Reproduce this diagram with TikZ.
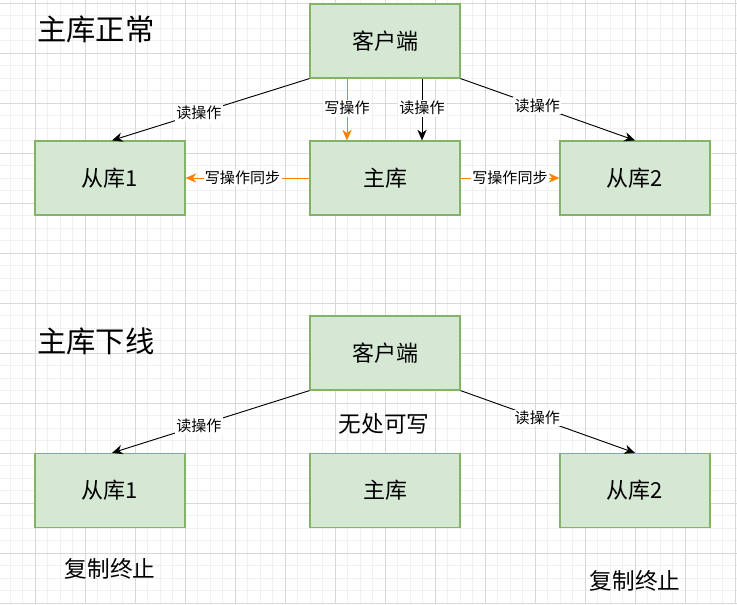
\documentclass[tikz,border=0pt]{standalone}
\usepackage{fontspec}
\setmainfont{Noto Sans CJK SC}
\usetikzlibrary{arrows.meta}
\definecolor{boxfill}{HTML}{D5E8D4}
\definecolor{boxline}{HTML}{82B366}
\definecolor{orangeline}{HTML}{FF8000}
\definecolor{gridminor}{HTML}{F0F0F0}
\definecolor{gridmajor}{HTML}{D8D8D8}
\tikzset{
  box/.style={draw=boxline, fill=boxfill, line width=0.9pt, minimum width=150*0.75pt, minimum height=74*0.75pt, inner sep=0pt, font=\fontsize{16.5}{19}\selectfont},
  title/.style={font=\fontsize{22}{26}\selectfont, inner sep=0pt},
  note/.style={font=\fontsize{17}{20}\selectfont, inner sep=0pt},
  elabel/.style={fill=white, inner sep=1pt, font=\fontsize{11.3}{13}\selectfont},
  readarrow/.style={draw=black, line width=0.7pt, -{Stealth[length=8pt,width=7pt,inset=2.5pt]}},
  writearrow/.style={draw=orangeline, line width=0.7pt, -{Stealth[length=8pt,width=7pt,inset=2.5pt]}},
}
\begin{document}
\begin{tikzpicture}[x=0.75pt,y=-0.75pt]
\useasboundingbox (0,0) rectangle (737,604);
\fill[white] (0,0) rectangle (737,604);
% minor grid
\foreach \i in {0,...,60} {
  \pgfmathsetmacro{\xx}{-15+12.5*\i}
  \draw[gridminor, line width=0.6pt] (\xx,0) -- (\xx,604);
}
\foreach \i in {0,...,50} {
  \pgfmathsetmacro{\yy}{3+12.5*\i}
  \draw[gridminor, line width=0.6pt] (0,\yy) -- (737,\yy);
}
% major grid
\foreach \xx in {35,85,...,735} { \draw[gridmajor, line width=0.6pt] (\xx,0) -- (\xx,604); }
\foreach \yy in {3,53,...,603} { \draw[gridmajor, line width=0.6pt] (0,\yy) -- (737,\yy); }

% top section
\node[title, anchor=west] (t1) at (37,29) {主库正常};
\node[box] (c1) at (385,41) {客户端};
\node[box] (s11) at (110,178) {从库1};
\node[box] (m1) at (385,178) {主库};
\node[box] (s21) at (635,178) {从库2};

\draw[readarrow] (c1.south west) -- node[elabel, pos=0.56] {读操作} ([xshift=2*0.75pt]s11.north);
\draw[readarrow] (c1.south east) -- node[elabel, pos=0.44] {读操作} (s21.north);
\draw[writearrow] ([xshift=-38*0.75pt]c1.south) -- node[elabel, pos=0.48] {写操作} ([xshift=-38*0.75pt]m1.north);
\draw[readarrow] ([xshift=37*0.75pt]c1.south) -- node[elabel, pos=0.48] {读操作} ([xshift=37*0.75pt]m1.north);
\draw[writearrow] (m1.west) -- node[elabel, pos=0.54] {写操作同步} (s11.east);
\draw[writearrow] (m1.east) -- node[elabel, pos=0.5] {写操作同步} (s21.west);

% bottom section
\node[title, anchor=west] (t2) at (37,341) {主库下线};
\node[box] (c2) at (385,353) {客户端};
\node[box] (s12) at (110,490.5) {从库1};
\node[box] (m2) at (385,490.5) {主库};
\node[box] (s22) at (635,490.5) {从库2};

\draw[readarrow] (c2.south west) -- node[elabel, pos=0.56] {读操作} ([xshift=2*0.75pt]s12.north);
\draw[readarrow] (c2.south east) -- node[elabel, pos=0.44] {读操作} (s22.north);

\node[note] (n1) at (384,424) {无处可写};
\node[note] (n2) at (110,569) {复制终止};
\node[note] (n3) at (635,581) {复制终止};
\end{tikzpicture}
\end{document}
